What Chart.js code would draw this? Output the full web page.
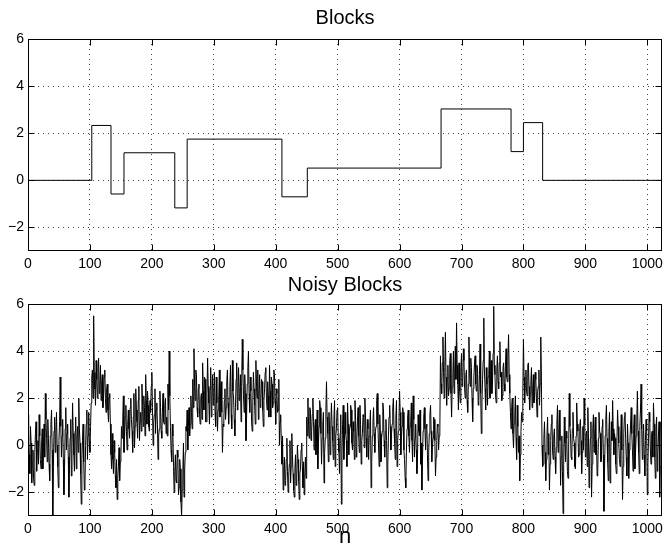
<!DOCTYPE html>
<html>
<head>
<meta charset="utf-8">
<script src="https://cdn.jsdelivr.net/npm/chart.js@4"></script>
<style>
  html, body { margin: 0; padding: 0; background: #fff; }
  #wrap { position: relative; width: 668px; height: 549px; }
  canvas { position: absolute; left: 0; }
  #blocksChart { top: 0; }
  #noisyChart { top: 265px; }
</style>
</head>
<body>
<div id="wrap">
  <canvas id="blocksChart" width="668" height="280"></canvas>
  <canvas id="noisyChart" width="668" height="284"></canvas>
</div>
<script>
// tick labels
const xTicks = [0, 100, 200, 300, 400, 500, 600, 700, 800, 900, 1000];
const yTicks = [-2, 0, 2, 4, 6];

// Blocks: sample index where each level starts, and the level
const blockEdges  = [0, 103, 134, 155, 237, 257, 410, 451, 667, 780, 800, 831, 1024];
const blockLevels = [0, 2.33, -0.58, 1.17, -1.17, 1.75, -0.70, 0.52, 3.03, 1.22, 2.45, 0, 0];

// Noisy Blocks, one value per sample n = 0..1023 (32 per row)
const noisyStep = 1;
const noisyValues = [
  1.3,0.2,-0.4,-1.2,0.8,0.1,-1.6,-0.7,-0.2,-1.4,-1.7,-0.3,0.5,1.0,-1.1,-0.2,0.2,-0.8,1.3,0.4,-0.6,-1.0,0.1,0.7,-1.0,-0.1,0.9,-0.5,2.2,1.1,0.3,-0.7,
  1.1,0.3,-0.8,-1.5,0.4,0.9,1.5,-0.2,-3.0,-0.9,0.6,1.2,-0.3,0.5,1.4,0.0,-0.9,-1.8,0.2,1.0,2.9,0.8,-0.5,0.4,1.1,-0.6,-2.1,-0.9,0.7,1.6,-0.2,0.5,
  0.9,-0.5,-2.2,-0.8,0.3,1.1,-1.3,-0.1,1.8,0.5,-0.4,-1.1,0.6,1.2,-1.0,0.3,0.8,-0.3,2.0,0.7,0.1,-1.2,-2.5,-0.6,0.2,0.9,-0.7,-1.9,-1.6,0.0,0.9,1.5,
  -0.6,0.4,1.4,0.2,-0.3,0.8,1.8,2.9,3.2,2.0,5.5,3.1,2.4,1.7,3.6,2.8,2.0,3.3,3.7,2.2,2.5,3.4,1.9,2.7,3.0,1.6,2.1,2.9,3.2,2.0,1.4,2.4,
  2.6,1.5,1.0,2.0,2.2,0.9,-0.4,-1.0,0.5,-0.6,-1.2,0.2,-0.3,-1.3,-1.8,-0.6,-2.3,-1.4,-0.9,-0.1,-1.5,-0.7,-0.4,0.8,0.3,1.1,2.1,-0.3,0.4,1.2,1.7,0.6,
  -0.2,0.9,1.5,0.7,0.3,1.6,2.0,1.1,0.6,-0.3,1.2,2.2,-0.1,0.8,2.4,1.5,1.0,0.3,1.9,2.5,0.2,1.0,1.4,0.6,2.6,1.7,0.8,2.1,1.6,0.4,3.0,1.9,
  0.9,2.3,1.7,0.8,0.6,1.9,1.4,2.5,3.1,1.6,0.0,1.0,1.3,2.4,0.5,1.5,1.8,0.9,-0.6,0.4,0.7,2.3,1.6,0.6,0.3,1.4,2.2,1.0,0.9,1.7,2.0,0.5,
  1.2,0.4,2.6,1.5,4.0,2.1,0.8,-0.2,-0.7,0.9,0.4,-0.9,-2.0,-1.1,-0.4,-1.5,-1.6,-0.2,-0.5,-2.1,-1.8,-0.6,-1.0,-2.4,-3.0,-1.9,-1.2,0.1,-2.2,-1.0,-0.3,0.8,
  0.6,1.5,-0.2,0.8,1.6,0.4,0.9,2.1,1.4,0.7,2.8,1.6,4.1,2.5,1.9,3.2,3.0,1.6,1.2,2.4,2.6,1.3,0.9,2.0,2.2,1.1,3.5,2.3,1.5,2.9,2.8,1.0,
  1.0,2.2,3.7,2.5,1.8,0.9,2.4,3.3,1.2,2.0,3.0,1.7,2.2,3.1,1.4,0.8,2.9,1.8,0.6,1.5,2.0,3.2,1.2,2.3,2.7,1.4,-0.3,0.9,0.8,1.9,2.4,1.1,
  1.6,2.7,3.2,1.8,0.9,2.0,2.5,3.4,1.3,0.7,3.6,2.3,2.0,1.1,0.4,1.6,2.8,3.5,1.5,2.4,3.3,1.9,2.2,3.0,1.0,2.5,4.5,3.2,2.1,1.4,3.0,2.2,
  0.2,1.3,2.6,3.3,4.0,2.2,1.4,2.9,2.3,1.0,0.6,1.8,3.1,2.4,1.7,0.9,3.6,2.5,2.0,3.2,1.1,2.1,3.0,1.6,1.8,2.8,2.7,1.5,0.8,1.9,2.4,3.1,
  3.3,2.0,1.5,2.7,2.1,1.2,3.4,2.3,1.2,2.9,2.6,1.6,1.8,3.2,3.0,1.9,0.9,2.4,2.2,1.4,1.5,2.8,0.0,1.0,1.3,0.2,-0.8,0.4,-1.9,-1.0,-0.5,-1.7,
  -1.5,-0.6,0.3,-1.1,-2.0,-1.3,-0.8,0.2,-1.6,-0.9,0.5,-0.4,-1.2,-1.9,-2.2,-1.0,-0.4,-1.7,-1.4,0.0,-0.6,-1.5,-2.3,-1.2,-1.0,-0.2,0.1,-0.9,-1.8,-0.7,-2.1,-1.3,
  -0.5,-1.4,1.2,0.4,2.0,0.9,0.3,1.6,1.5,0.2,0.6,1.3,2.0,1.0,-0.2,0.7,1.1,-0.4,0.4,1.5,-1.0,0.1,0.8,1.9,1.6,0.5,-0.8,0.3,0.9,1.4,-1.6,-0.3,
  0.3,1.5,2.7,1.2,0.5,-0.7,1.4,0.6,-0.4,0.9,1.8,0.8,0.2,-0.6,1.1,1.9,-0.9,0.4,0.7,1.5,1.6,0.3,-0.3,-1.2,0.5,1.3,-2.5,-0.4,0.9,1.7,-0.6,0.2,
  1.4,0.5,0.2,-0.9,1.8,0.9,-0.4,0.6,0.8,1.7,1.5,0.1,-0.2,1.0,0.6,-0.6,1.9,1.1,-0.5,0.3,1.0,1.6,0.4,-0.3,1.7,0.9,-0.8,0.2,0.5,1.3,1.2,-0.1,
  2.0,1.2,0.3,-0.5,1.1,0.7,-0.6,0.4,0.9,1.5,-1.8,-0.7,0.4,1.0,1.6,0.5,-0.3,0.6,0.8,1.9,2.2,0.9,0.0,-0.9,1.3,0.5,-0.7,0.3,0.6,1.8,1.5,0.2,
  -0.5,0.6,1.1,0.2,-1.8,-0.8,0.4,1.2,1.7,0.8,-0.2,0.5,0.9,1.6,2.0,0.7,0.1,-0.6,1.2,1.9,-0.9,0.2,0.6,1.1,2.3,1.4,-0.4,0.3,0.8,1.6,1.4,-0.2,
  -0.6,-1.4,-1.8,-0.3,0.7,1.2,1.5,0.4,-0.3,0.8,1.0,1.8,0.2,-0.7,2.1,1.1,-0.5,0.3,0.9,-0.2,-1.2,-0.4,1.3,0.6,0.4,1.5,-0.8,0.1,-1.9,-0.6,0.6,1.2,
  1.6,0.7,-0.2,0.8,0.9,-0.4,-1.5,-0.3,0.5,1.3,1.7,0.6,-0.7,-0.1,0.3,1.2,1.1,0.2,-1.3,-0.5,0.2,0.9,0.8,-0.2,0.4,0.6,3.8,2.6,2.2,3.5,4.6,3.1,
  2.0,3.3,4.8,2.9,1.7,2.8,3.4,2.1,2.4,3.6,3.9,2.2,1.2,2.5,3.0,4.0,2.2,3.1,4.2,2.8,5.2,3.4,2.6,1.5,3.5,2.3,1.8,3.2,3.9,2.5,2.7,4.1,
  3.6,2.4,2.0,3.0,3.2,1.9,1.4,2.6,4.6,3.2,2.5,3.7,3.3,2.0,1.0,2.4,2.9,3.5,3.8,2.6,2.3,3.4,3.1,1.7,1.9,3.0,4.3,2.2,0.5,1.8,2.8,3.6,
  5.4,3.2,2.4,1.5,3.3,2.6,1.7,2.9,3.0,4.0,2.0,2.8,3.6,2.2,2.6,3.9,5.9,3.4,3.0,2.1,1.8,3.2,3.8,2.7,2.4,3.5,4.4,2.9,3.1,1.9,2.1,3.3,
  3.5,2.6,2.3,3.4,4.1,2.9,2.7,3.8,4.7,3.0,2.2,1.4,0.7,1.6,2.0,0.5,-0.1,0.9,1.3,2.1,0.3,-0.6,1.7,0.8,-0.3,0.4,-1.5,-0.4,0.6,1.4,1.0,2.2,
  4.5,2.9,1.8,2.6,3.2,2.3,2.1,3.4,3.5,2.5,1.5,2.2,2.7,3.3,1.6,2.4,3.0,1.8,1.9,3.1,2.8,2.0,1.2,2.3,2.5,3.2,1.7,2.6,4.6,2.9,0.0,-0.9,
  -0.8,0.3,1.0,-0.3,-1.5,-0.6,0.4,1.2,-0.4,0.5,-1.9,-0.8,0.2,0.9,1.3,-0.2,-0.6,0.4,0.7,-0.5,-1.2,-0.1,0.9,1.7,-0.3,0.5,1.5,0.2,-1.7,-0.5,0.4,-1.1,
  -2.9,-0.8,1.2,0.1,-0.7,0.6,0.3,-1.1,-1.4,-0.2,2.2,0.8,0.5,-0.5,-0.6,0.7,1.4,0.3,0.1,-0.9,-1.0,0.4,1.8,0.9,0.6,-0.5,-0.4,0.8,1.1,0.2,-1.2,-0.3,
  0.8,-0.2,2.0,0.9,-0.5,0.4,0.6,-0.9,1.6,0.5,-1.8,-0.6,0.3,1.0,-2.2,-0.8,0.7,1.3,-0.3,0.5,1.2,-0.4,0.2,-1.3,-1.1,0.3,1.4,0.6,0.5,-0.7,-0.6,0.8,
  1.1,-0.4,-2.8,-1.0,0.4,1.1,1.7,0.3,-0.7,-1.5,0.6,1.4,-1.6,-0.5,1.0,0.2,1.9,0.7,-0.4,0.5,0.3,-0.8,-1.2,0.2,1.5,0.8,0.1,-0.6,-0.9,0.4,1.3,-0.2,
  -2.3,-0.9,0.5,1.2,1.4,0.3,-0.5,-1.3,0.9,0.1,-1.4,-0.2,0.2,0.9,1.6,0.5,-0.2,-1.1,0.7,1.3,-1.0,-0.3,0.4,1.0,2.3,0.6,-0.3,-1.2,0.8,1.5,2.6,0.7,
  -0.6,0.5,0.9,-0.4,-1.3,0.2,1.1,0.6,-2.1,-0.8,0.3,1.4,1.0,-0.2,-0.8,0.5,0.6,-0.5,1.8,0.9,-0.5,-1.4,0.7,1.2,-1.1,-0.3,0.4,1.0,-2.2,-0.9,1.0,0.3
];

const FONT = "'Liberation Sans', Arial, Helvetica, sans-serif";

function fmtTick(v) {
  return v < 0 ? '\u2212' + Math.abs(v) : String(v);
}

// matlab style box with inward ticks on all four sides
const boxTicks = {
  id: 'boxTicks',
  afterDraw(chart) {
    const { ctx, chartArea: a, scales: { x, y } } = chart;
    const L = Math.round(a.left) + 0.5, R = Math.round(a.right) - 0.5;
    const T = Math.round(a.top) + 0.5, B = Math.round(a.bottom) - 0.5;
    const len = 6;
    ctx.save();
    ctx.strokeStyle = '#000';
    ctx.lineWidth = 1;
    ctx.strokeRect(L, T, R - L, B - T);
    ctx.beginPath();
    xTicks.forEach(v => {
      const px = Math.round(x.getPixelForValue(v)) + 0.5;
      ctx.moveTo(px, B); ctx.lineTo(px, B - len);
      ctx.moveTo(px, T); ctx.lineTo(px, T + len);
    });
    yTicks.forEach(v => {
      const py = Math.round(y.getPixelForValue(v)) + 0.5;
      ctx.moveTo(L, py); ctx.lineTo(L + len, py);
      ctx.moveTo(R, py); ctx.lineTo(R - len, py);
    });
    ctx.stroke();
    ctx.restore();
  }
};

function makeOptions(title, titlePad, xAxisHeight, showN) {
  return {
    responsive: false,
    animation: false,
    devicePixelRatio: 1,
    layout: { padding: { left: 0, right: 4, top: 0, bottom: 0 } },
    elements: { point: { radius: 0 }, line: { tension: 0 } },
    plugins: {
      legend: { display: false },
      tooltip: { enabled: false },
      title: {
        display: true, text: title, color: '#000', fullSize: false,
        font: { family: FONT, size: 20, weight: 'normal', lineHeight: 1 },
        padding: titlePad
      }
    },
    scales: {
      x: {
        type: 'linear', min: 0, max: 1024,
        afterBuildTicks: s => { s.ticks = xTicks.map(v => ({ value: v })); },
        afterFit: s => { s.height = xAxisHeight; },
        grid: { color: '#444', lineWidth: 1, drawTicks: false },
        border: { display: false, dash: [1, 4] },
        ticks: {
          color: '#000', padding: 5, autoSkip: false, maxRotation: 0, minRotation: 0,
          font: { family: FONT, size: 14 }, callback: v => fmtTick(v)
        },
        title: {
          display: showN, text: 'n', color: '#000',
          font: { family: FONT, size: 22, lineHeight: 1 }, padding: { top: 0, bottom: 1 }
        }
      },
      y: {
        type: 'linear', min: -3, max: 6,
        afterBuildTicks: s => { s.ticks = yTicks.map(v => ({ value: v })); },
        afterFit: s => { s.width = 28; },
        grid: { color: '#444', lineWidth: 1, drawTicks: false },
        border: { display: false, dash: [1, 4] },
        ticks: {
          color: '#000', padding: 4, autoSkip: false,
          font: { family: FONT, size: 14 }, callback: v => fmtTick(v)
        }
      }
    }
  };
}

new Chart(document.getElementById('blocksChart'), {
  type: 'line',
  data: {
    datasets: [{
      data: blockEdges.map((e, i) => ({ x: e, y: blockLevels[i] })),
      stepped: 'before',
      borderColor: '#000',
      borderWidth: 1,
      fill: false
    }]
  },
  options: makeOptions('Blocks', { top: 8, bottom: 11 }, 29, false),
  plugins: [boxTicks]
});

new Chart(document.getElementById('noisyChart'), {
  type: 'line',
  data: {
    datasets: [{
      data: noisyValues.map((v, i) => ({ x: i * noisyStep, y: v })),
      borderColor: '#000',
      borderWidth: 1,
      fill: false
    }]
  },
  options: makeOptions('Noisy Blocks', { top: 10, bottom: 9 }, 33, true),
  plugins: [boxTicks]
});
</script>
</body>
</html>
